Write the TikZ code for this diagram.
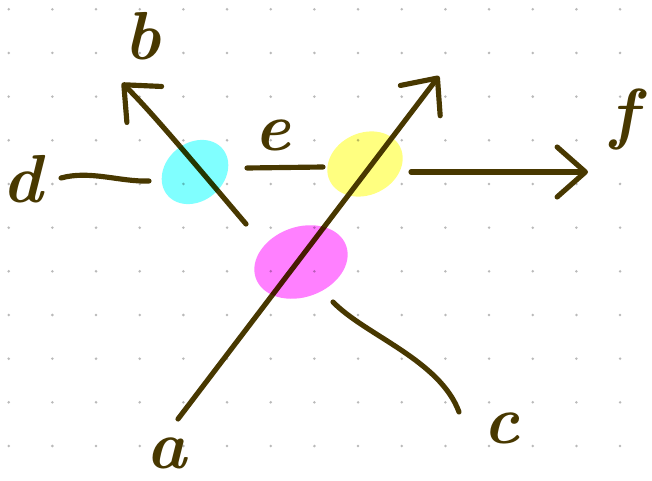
\documentclass[tikz,border=0pt]{standalone}
\usepackage{fontspec}
\definecolor{ink}{RGB}{72,56,0}
\definecolor{hlcyan}{RGB}{128,255,255}
\definecolor{hlyellow}{RGB}{255,255,128}
\definecolor{hlmagenta}{RGB}{255,128,255}
\definecolor{griddot}{RGB}{185,185,185}
\usetikzlibrary{arrows.meta, shapes.geometric}

\begin{document}
\begin{tikzpicture}[
    x=0.03cm, y=-0.03cm,
    blob/.style={ellipse, draw=none, inner sep=0pt},
    lbl/.style={text=ink, font=\fontsize{58}{60}\selectfont\bfseries\itshape, inner sep=0pt},
    pen/.style={draw=ink, line width=4.4pt, line cap=round, line join=round},
    penarrow/.style={pen, -{Straight Barb[length=0.85cm, width=1.5cm, round]}},
  ]
  \useasboundingbox[fill=white] (0,0) rectangle (652,480);
  % dotted paper
  \foreach \i in {0,...,14}
    \foreach \j in {0,...,10}
      \fill[griddot] (8.7+43.67*\i, 9.3+43.67*\j) circle (1.4);

  % labels
  \node[lbl] (a) at (167,453) {a};
  \node[lbl] (b) at (143,36) {b};
  \node[lbl] (c) at (502,428) {c};
  \node[lbl] (d) at (23,179) {d};
  \node[lbl] (e) at (273,135) {e};
  \node[lbl] (f) at (624,120) {f};

  % line ends
  \coordinate (a0) at (178,419);
  \coordinate (a1) at (439,76);
  \coordinate (b0) at (246,224);
  \coordinate (b1) at (122,83);
  \coordinate (c0) at (333,302);
  \coordinate (c1) at (459,412);
  \coordinate (d0) at (61,178);
  \coordinate (d1) at (149,181);
  \coordinate (e0) at (247,168);
  \coordinate (e1) at (323,167);
  \coordinate (f0) at (411,172);
  \coordinate (f1) at (588,172);

  \draw[penarrow] (a0) -- (a1);
  \draw[penarrow] (b0) .. controls (200,170) and (150,110) .. (b1);
  \draw[pen] (c0) .. controls (365,335) and (440,360) .. (c1);
  \draw[pen] (d0) .. controls (90,170) and (120,182) .. (d1);
  \draw[pen] (e0) -- (e1);
  \draw[penarrow] (f0) -- (f1);

  % highlighter blobs
  \begin{scope}[blend mode=multiply]
    \node[blob, fill=hlcyan, minimum width=2.16cm, minimum height=1.74cm, rotate=40] (vl) at (195,172) {};
    \node[blob, fill=hlyellow, minimum width=2.34cm, minimum height=1.86cm, rotate=25] (vr) at (365,164) {};
    \node[blob, fill=hlmagenta, minimum width=2.88cm, minimum height=2.1cm, rotate=20] (vm) at (301,262) {};
  \end{scope}
\end{tikzpicture}
\end{document}
